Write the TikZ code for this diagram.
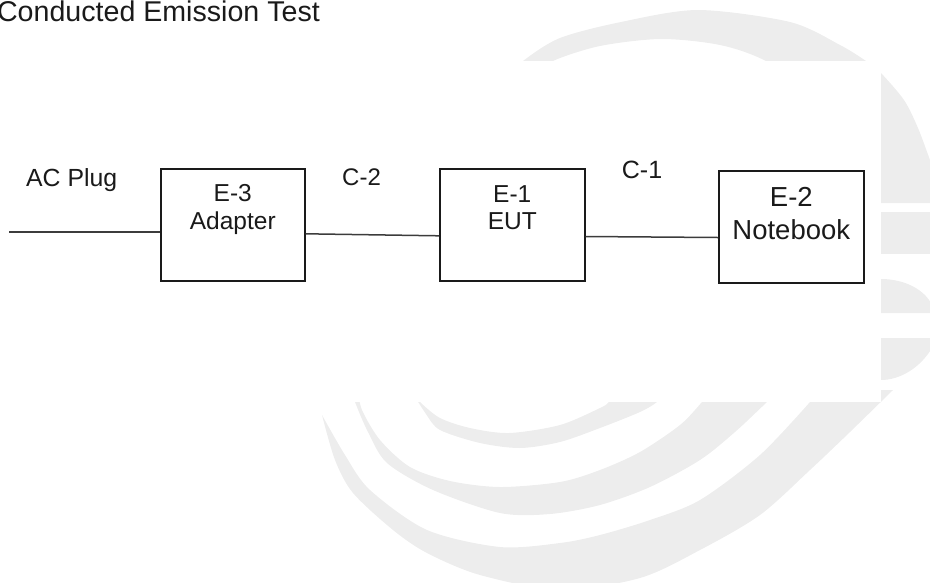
\documentclass[tikz,border=0pt]{standalone}
\usepackage{fontspec}
\setmainfont{Liberation Sans}
\definecolor{markgray}{HTML}{EDEDED}
\definecolor{ink}{HTML}{1A1A1A}
\definecolor{wirecol}{HTML}{3C3C3C}
\tikzset{
  devbox/.style={draw=ink, line width=1.6pt, inner sep=0pt, anchor=north west, text=ink},
  wire/.style={draw=wirecol, line width=1.5pt},
  lbl/.style={inner sep=0pt, anchor=base west, text=ink}
}
\newcommand{\twoline}[2]{\begin{tabular}[t]{@{}c@{}}#1\\#2\end{tabular}}
\begin{document}
\begin{tikzpicture}[x=1pt,y=-1pt]
    \useasboundingbox (0,0) rectangle (930,582);
    \begin{scope}
        \clip (0,0) rectangle (930,582);
        % watermark
        \fill[markgray] plot[smooth] coordinates {(505,80) (523,61) (560,38) (621,22) (698,10) (790,22) (840,45) (866,61) (880,72) (904,100) (918,128) (930,160) (945,200)}
            -- (945,203) -- (870,203)
            -- plot[smooth] coordinates {(870,180) (830,100) (766,61) (720,45) (661,39) (600,46) (553,61) (540,75)} -- cycle;
        \fill[markgray] (870,212) rectangle (935,254);
        \fill[markgray] (870,279) -- (881,279) .. controls (905,279) and (925,290) .. (932,305) -- (932,313) -- (870,313) -- cycle;
        \fill[markgray] (870,338) -- (932,338) -- (932,348) .. controls (920,368) and (900,380) .. (881,380) -- (870,380) -- cycle;
        \fill[markgray] plot[smooth] coordinates {(412,392) (420,402) (440,418) (470,428) (509,433) (560,425) (600,408) (609,402) (618,390)}
            -- plot[smooth] coordinates {(668,390) (657,402) (640,412) (600,428) (560,442) (520,448) (480,443) (440,430) (426,414) (412,392)} -- cycle;
        \fill[markgray] plot[smooth] coordinates {(358,390) (362,410) (380,440) (410,467) (450,481) (500,487) (560,482) (600,470) (640,452) (680,425) (702,402) (712,390)}
            -- plot[smooth] coordinates {(780,390) (767,402) (735,432) (700,460) (650,487) (600,505) (550,514) (500,513) (433,490) (387,463) (368,432) (355,402) (352,390)} -- cycle;
        \fill[markgray] plot[smooth] coordinates {(322,415) (335,460) (353,493) (393,530) (427,553) (480,575) (560,590) (640,578) (700,550) (760,515) (810,470) (850,432) (893,390)}
            -- (820,390)
            -- plot[smooth] coordinates {(810,402) (760,455) (700,500) (650,520) (600,535) (560,543) (500,547) (427,530) (370,490) (345,455) (322,415)} -- cycle;
        \fill[white] (0,61) rectangle (881,402);
    \end{scope}

    \node[lbl, anchor=base east, font=\fontsize{28.6}{32}\selectfont] (title) at (320,21.7) {Conducted Emission Test};

    \node[devbox, minimum width=144pt, text height=32.7pt, text depth=79.3pt, font=\fontsize{24.5}{27.6}\selectfont] (e3) at (160,168) {\twoline{E-3}{Adapter}};
    \node[devbox, minimum width=145pt, text height=33.7pt, text depth=78.3pt, font=\fontsize{24.5}{26.6}\selectfont] (e1) at (439,168) {\twoline{E-1}{EUT}};
    \node[devbox, minimum width=145pt, text height=35.7pt, text depth=76.3pt, font=\fontsize{27.5}{32.6}\selectfont] (e2) at (718,170) {\twoline{E-2}{Notebook}};

    \coordinate (plug) at (9,232);
    \draw[wire] (plug) -- (plug -| e3.west);
    \draw[wire] ([yshift=-9pt]e3.east) -- ([yshift=-11pt]e1.west);
    \draw[wire] ([yshift=-11.7pt]e1.east) -- ([yshift=-10.7pt]e2.west);

    \node[lbl, font=\fontsize{24.8}{28}\selectfont] (acplug) at (26,186) {AC Plug};
    \node[lbl, font=\fontsize{24}{28}\selectfont] (c2) at (342,185) {C-2};
    \node[lbl, font=\fontsize{25}{28}\selectfont] (c1) at (621.7,178.3) {C-1};
\end{tikzpicture}
\end{document}
